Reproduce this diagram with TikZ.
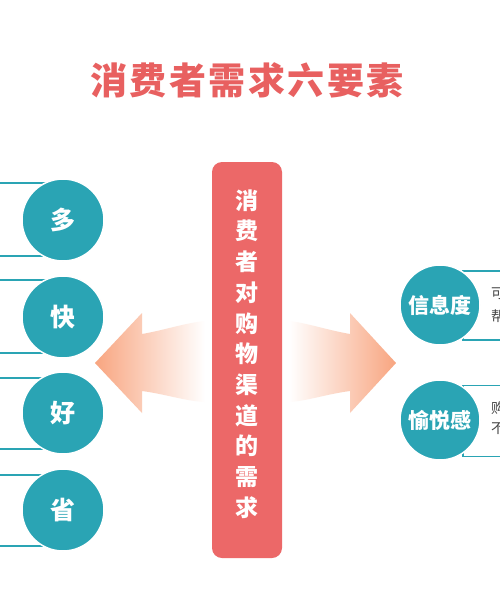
\documentclass[tikz,border=0pt]{standalone}
\usepackage{fontspec}
\newfontfamily\cjk{Noto Sans CJK SC}
\definecolor{teal1}{RGB}{42,164,180}
\definecolor{redbox}{RGB}{236,104,104}
\definecolor{titlered}{RGB}{232,96,96}
\definecolor{peach}{RGB}{248,165,128}
\definecolor{txtgray}{RGB}{70,70,70}
\newcommand{\tsp}{\hspace{2.5pt}}
\tikzset{
  tealcirc/.style={circle, fill=teal1, draw=white, line width=1.5pt, text=white, inner sep=0pt},
  leftcirc/.style={tealcirc, minimum size=82pt, font=\cjk\bfseries\fontsize{25}{28}\selectfont},
  rightcirc/.style={tealcirc, minimum size=80pt, font=\cjk\bfseries\fontsize{21}{24}\selectfont},
  tealbox/.style={draw=teal1, line width=1.5pt, fill=white, inner sep=0pt},
  sidetext/.style={anchor=west, inner sep=0pt, align=left, text=txtgray},
}
\begin{document}
\begin{tikzpicture}[x=1pt,y=-1pt]
\useasboundingbox (0,0) rectangle (500,600);
\clip (0,0) rectangle (500,600);
\fill[white] (0,0) rectangle (500,600);

% title
\node[font=\cjk\bfseries\fontsize{37}{40}\selectfont, text=titlered] (title) at (247,80)
  {消\tsp 费\tsp 者\tsp 需\tsp 求\tsp 六\tsp 要\tsp 素};

% central box
\node[fill=redbox, rounded corners=10pt, minimum width=70pt, minimum height=396pt, inner sep=0pt] (center) at (247,360) {};
\node[font=\cjk\bfseries\fontsize{23}{30.7}\selectfont, text=white, align=center] (ctext) at (247,354)
  {消\\费\\者\\对\\购\\物\\渠\\道\\的\\需\\求};

% arrows
\shade[left color=peach, right color=white]
  (95,363) -- (142,313) -- (142,334) .. controls (165,330) and (185,323) .. (205,321)
  -- (205,402) .. controls (185,401) and (165,394) .. (142,391) -- (142,413) -- cycle;
\shade[right color=peach, left color=white]
  (396,363) -- (350,313) -- (350,334) .. controls (327,330) and (307,323) .. (289,321)
  -- (289,402) .. controls (307,401) and (327,394) .. (350,391) -- (350,413) -- cycle;

% left boxes (cut off at the left edge)
\node[tealbox, minimum width=80pt, minimum height=73pt] (lb1) at (20,219.5) {};
\node[tealbox, minimum width=80pt, minimum height=73pt] (lb2) at (20,316.5) {};
\node[tealbox, minimum width=80pt, minimum height=71pt] (lb3) at (20,413.5) {};
\node[tealbox, minimum width=80pt, minimum height=71pt] (lb4) at (20,510.5) {};

% left circles
\node[leftcirc] (c1) at (63,220) {多};
\node[leftcirc] (c2) at (63,317) {快};
\node[leftcirc] (c3) at (63,413) {好};
\node[leftcirc] (c4) at (63,510) {省};

% right boxes (cut off at the right edge)
\node[tealbox, minimum width=70pt, minimum height=69pt, anchor=west] (rb1) at (462,305.5) {};
\node[tealbox, minimum width=70pt, minimum height=71pt, anchor=west] (rb2) at (462,421) {};
\node[sidetext, font=\cjk\fontsize{14}{23}\selectfont] (rt1) at (491,305) {可\\帮};
\node[sidetext, font=\cjk\fontsize{14}{20}\selectfont] (rt2) at (491,418) {购\\不};

% right circles
\node[rightcirc] (c5) at (440,305) {信息度};
\node[rightcirc] (c6) at (440,420) {愉悦感};
\end{tikzpicture}
\end{document}
